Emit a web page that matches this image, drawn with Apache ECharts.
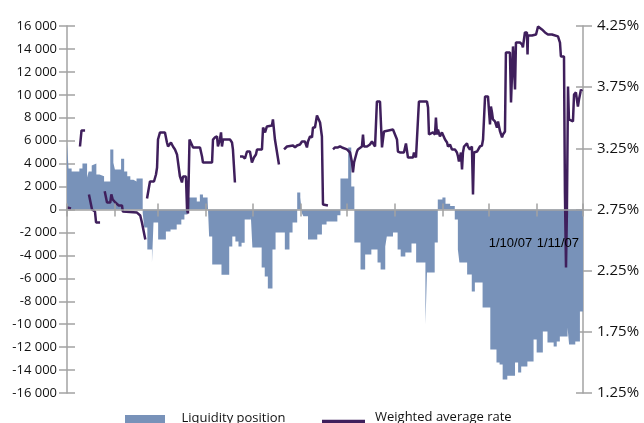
<!DOCTYPE html>
<html>
<head>
<meta charset="utf-8">
<script src="https://cdn.jsdelivr.net/npm/echarts@6/dist/echarts.min.js"></script>
<style>
html,body{margin:0;padding:0;background:#fff;}
#chart{width:644px;height:423px;}
</style>
</head>
<body>
<div id="chart"></div>
<script>
// x values: days since 1 Jan 2007
const monthStarts = [0, 31, 59, 90, 120, 151, 181, 212, 243, 273, 304, 334];
const labelDays = [273, 304];
const labelTexts = ['1/10/07', '1/11/07'];

const leftTicks = [-16000, 16000, 2000];
const rateTicks = [1.25, 1.75, 2.25, 2.75, 3.25, 3.75, 4.25];

// Liquidity position (step changes)
const liqDays = [0,1,3,8,10,13,14,16,17,19,21,22,24,28,30,31,35,37,39,41,43,45,49,50,52,55,56,59,64,67,71,74,76,78,79,84,86,88,91,92,94,100,105,107,109,111,113,115,119,120,126,128,130,133,135,141,144,146,149,151,152,153,156,162,165,168,175,177,182,184,186,190,193,197,201,203,206,207,211,214,216,219,223,226,232,233,238,240,243,245,248,251,253,254,259,262,264,269,274,278,280,282,285,290,292,294,298,302,304,308,311,315,317,319,324,325,329,332,334];
const liqVals = [5840,3580,3310,3570,4010,2790,3310,3840,4010,3050,3200,2910,2440,5230,4070,3490,4420,3320,2900,2600,2440,2700,-300,-1570,-3490,-4620,-1130,-2620,-1920,-1740,-1310,-870,-440,0,1050,700,1310,1050,870,-2350,-4800,-5700,-3220,-2350,-2790,-3220,-2900,-870,-580,-3310,-5060,-5840,-6890,-3490,-2010,-3490,-2010,-1130,1480,1050,-300,-580,-2620,-2180,-1310,-1050,-500,2700,5400,2000,-2880,-5230,-3920,-3490,-4620,-5230,-3220,-2350,-2000,-3490,-4100,-3750,-2970,-4620,-10030,-5490,-2880,870,1050,500,300,-870,-3490,-4620,-5670,-7150,-6370,-8550,-12200,-13340,-13520,-14820,-14500,-13340,-14210,-13690,-13250,-11340,-12470,-10640,-11600,-11950,-11510,-11070,-10290,-11770,-11510,-8890,-8890];

// Weighted average rate (%), null = gap
const rateDays = [0,2.6,5,8.4,9.4,11.7,13,14.2,16.2,18.1,18.8,21.4,23,24.4,25.9,28.0,28.7,29.6,31.3,32.4,33.5,35.6,36.1,45.3,47.4,48.5,50.7,51.2,
51.8,53.7,56.3,57.6,58.3,58.9,60.2,63.4,64.1,64.7,65.4,67.3,68.6,69.9,71.2,73.1,74.4,75.1,77.0,77.7,78.3,79.3,80.3,81.6,86.1,87.4,88.0,93.9,94.5,95.8,97.1,97.7,99.0,99.7,100.3,101.0,105.5,106.8,107.4,108.7,110,
112.0,113.9,115.2,116.5,118.4,119.7,120.4,121.0,122.3,123.0,126.2,126.9,128.2,129.4,132.7,133.3,134.6,137.2,139,
140.5,142.4,146.3,147.6,148.9,150.8,152.1,154.0,155.3,156.0,157.3,158.6,159.2,160.5,161.8,162.5,163.8,165.0,165.7,168.9,170,
172.2,173.5,175.4,176.7,178.0,178.6,181.2,183.2,184.5,185.1,185.8,187.7,188.3,190.9,191.6,192.2,194.2,196.1,197.4,198.1,199.4,200.6,202.6,203.9,204.5,205.2,205.8,211.0,213.6,214.2,215.5,218.1,219.4,220.1,220.7,224.0,224.6,225.9,227.8,233.0,233.7,234.3,236.9,238.2,238.8,239.5,240.1,241.4,242.7,243.4,244.7,246.0,246.6,247.9,249.2,251.1,252.4,253.1,253.7,255.0,255.7,256.3,257.0,258.9,259.5,260.8,262.1,262.8,263.4,265.4,267.3,268.6,269.3,270.6,272.5,273.8,274.4,275.1,275.7,277.0,278.3,279.0,280.3,281.6,282.2,283.5,284.1,286.7,287.4,288.7,290.0,290.6,293.2,293.9,294.5,295.1,296.4,297.7,298.1,298.4,301.0,303.6,304.9,307.4,309.4,311.3,313.9,314.6,317.8,319.1,319.7,321.7,322.3,323.0,323.6,324.3,324.9,325.6,327.5,328.2,329.4,330.7,331.4,332.7,333.3];
const rateVals = [2.766,2.758,null,3.265,3.396,3.396,null,2.873,2.750,2.734,2.644,2.644,null,2.900,2.807,2.807,2.873,2.832,2.807,2.807,2.783,2.783,2.734,2.725,2.701,2.644,2.505,null,
2.840,2.979,2.979,3.036,3.093,3.322,3.380,3.380,3.396,3.298,3.265,3.298,3.265,3.241,3.200,3.020,2.971,3.020,3.020,2.750,2.717,3.322,3.331,3.257,3.257,3.183,3.134,3.134,3.322,3.339,3.347,3.265,3.322,3.380,3.265,3.322,3.322,3.298,3.241,2.971,null,
3.183,3.183,3.167,3.224,3.224,3.134,3.134,3.175,3.200,3.241,3.241,3.420,3.380,3.429,3.437,3.486,3.322,3.118,null,
3.241,3.265,3.273,3.257,3.273,3.281,3.306,3.306,3.257,3.306,3.347,3.339,3.420,3.420,3.519,3.527,3.461,3.347,2.791,2.783,null,
3.241,3.257,3.257,3.265,3.257,3.265,3.241,3.216,3.134,3.053,3.134,3.224,3.241,3.265,3.363,3.265,3.265,3.281,3.306,3.322,3.265,3.633,3.633,3.257,3.322,3.388,3.404,3.404,3.322,3.224,3.216,3.216,3.290,3.281,3.175,3.175,3.216,3.175,3.633,3.633,3.584,3.363,3.380,3.363,3.502,3.363,3.404,3.347,3.380,3.380,3.322,3.298,3.265,3.281,3.241,3.241,3.216,3.183,3.142,3.216,3.077,3.216,3.265,3.290,3.265,3.241,3.265,2.873,3.216,3.224,3.265,3.273,3.322,3.674,3.674,3.445,3.592,3.543,3.486,3.470,3.420,3.470,3.388,3.339,3.363,3.388,4.034,4.034,3.625,4.083,3.731,4.115,4.115,4.124,4.099,4.075,4.197,4.197,4.017,4.173,4.173,4.181,4.246,4.222,4.197,4.181,4.181,4.165,4.165,4.115,4.001,4.001,2.889,2.276,2.750,3.756,3.486,3.470,3.470,3.690,3.707,3.592,3.649,3.731,3.715];

const AXIS = '#a3a3a3';
const FONT = 'Open Sans';
const BLUE = '#7892b9';
const PURPLE = '#3f1f5c';
const ZERO_OFFSET = -183.5;

function fmtThousands(v) {
  const s = String(Math.abs(v)).replace(/\B(?=(\d{3})+(?!\d))/g, ' ');
  return (v < 0 ? '-' : '') + s;
}

const chart = echarts.init(document.getElementById('chart'), null, {renderer: 'canvas'});
const option = {
  animation: false,
  backgroundColor: '#fff',
  grid: {left: 67, right: 61, top: 26, bottom: 30, outerBoundsMode: 'none'},
  legend: [
    {
      left: 125, top: 410, padding: 0, itemWidth: 43, itemHeight: 17, itemGap: 20,
      data: [{name: 'Liquidity position', icon: 'path://M0,0L40,0Z M0,5L40,5L40,17L0,17Z'}],
      itemStyle: {borderWidth: 0},
      textStyle: {fontFamily: FONT, fontSize: 13, color: '#111', padding: [0, 0, 0, 10]}
    },
    {
      left: 322, top: 410, padding: 0, itemWidth: 43, itemHeight: 17,
      data: [{name: 'Weighted average rate', icon: 'path://M0,0L40,0Z M0,9L40,9L40,13L0,13Z'}],
      itemStyle: {borderWidth: 0},
      lineStyle: {width: 0},
      textStyle: {fontFamily: FONT, fontSize: 13, color: '#111', padding: [0, 0, 0, 5]}
    }
  ],
  xAxis: [
    {
      type: 'value', min: 0, max: 334, position: 'bottom', offset: ZERO_OFFSET, z: 10,
      axisLine: {show: true, onZero: false, lineStyle: {color: AXIS, width: 1.5}},
      axisTick: {show: true, customValues: monthStarts, length: 7, lineStyle: {color: AXIS, width: 1.5}},
      axisLabel: {
        show: true, customValues: labelDays, margin: 27, align: 'left',
        fontFamily: 'Liberation Sans', fontSize: 13, color: '#000',
        formatter: function (v) { const i = labelDays.indexOf(Math.round(v)); return i >= 0 ? labelTexts[i] : ''; }
      },
      splitLine: {show: false}
    },
    {
      type: 'value', min: 0, max: 334, position: 'top', offset: ZERO_OFFSET, z: 10,
      axisLine: {show: false, onZero: false},
      axisTick: {show: true, customValues: monthStarts, length: 6, lineStyle: {color: AXIS, width: 1.5}},
      axisLabel: {show: false},
      splitLine: {show: false}
    }
  ],
  yAxis: [
    {
      type: 'value', position: 'left', min: leftTicks[0], max: leftTicks[1], interval: leftTicks[2],
      axisLine: {show: true, onZero: false, lineStyle: {color: AXIS, width: 1.5}},
      axisTick: {show: true, length: 8, lineStyle: {color: AXIS, width: 1.5}},
      axisLabel: {margin: 10, fontFamily: FONT, fontSize: 13, color: '#111', formatter: fmtThousands},
      splitLine: {show: false}
    },
    {
      type: 'value', position: 'right', min: 1.25, max: 4.25,
      axisLine: {show: true, onZero: false, lineStyle: {color: AXIS, width: 1.5}},
      axisTick: {show: true, customValues: rateTicks, length: 9, lineStyle: {color: AXIS, width: 1.5}},
      axisLabel: {customValues: rateTicks, margin: 14, fontFamily: FONT, fontSize: 15, color: '#111',
        formatter: function (v) { return v.toFixed(2) + '%'; }},
      splitLine: {show: false}
    },
    {
      type: 'value', position: 'left', offset: -8, min: leftTicks[0], max: leftTicks[1], interval: leftTicks[2],
      axisLine: {show: false, onZero: false},
      axisTick: {show: true, length: 8, lineStyle: {color: AXIS, width: 1.5}},
      axisLabel: {show: false},
      splitLine: {show: false}
    },
    {
      type: 'value', position: 'right', offset: -7, min: 1.25, max: 4.25,
      axisLine: {show: false, onZero: false},
      axisTick: {show: true, customValues: rateTicks, length: 7, lineStyle: {color: AXIS, width: 1.5}},
      axisLabel: {show: false},
      splitLine: {show: false}
    }
  ],
  series: [
    {
      name: 'Liquidity position', type: 'line', step: 'end',
      xAxisIndex: 0, yAxisIndex: 0, z: 2,
      showSymbol: false, symbol: 'none',
      data: liqDays.map(function (d, i) { return [d, liqVals[i]]; }),
      lineStyle: {width: 0, color: BLUE},
      itemStyle: {color: BLUE},
      areaStyle: {color: BLUE, opacity: 1, origin: 0}
    },
    {
      name: 'Weighted average rate', type: 'line',
      xAxisIndex: 0, yAxisIndex: 1, z: 3,
      showSymbol: false, symbol: 'none', connectNulls: false,
      data: rateDays.map(function (d, i) { return [d, rateVals[i] === null ? '-' : rateVals[i]]; }),
      lineStyle: {width: 2.5, color: PURPLE},
      itemStyle: {color: PURPLE}
    }
  ]
};
chart.setOption(option);
</script>
</body>
</html>
